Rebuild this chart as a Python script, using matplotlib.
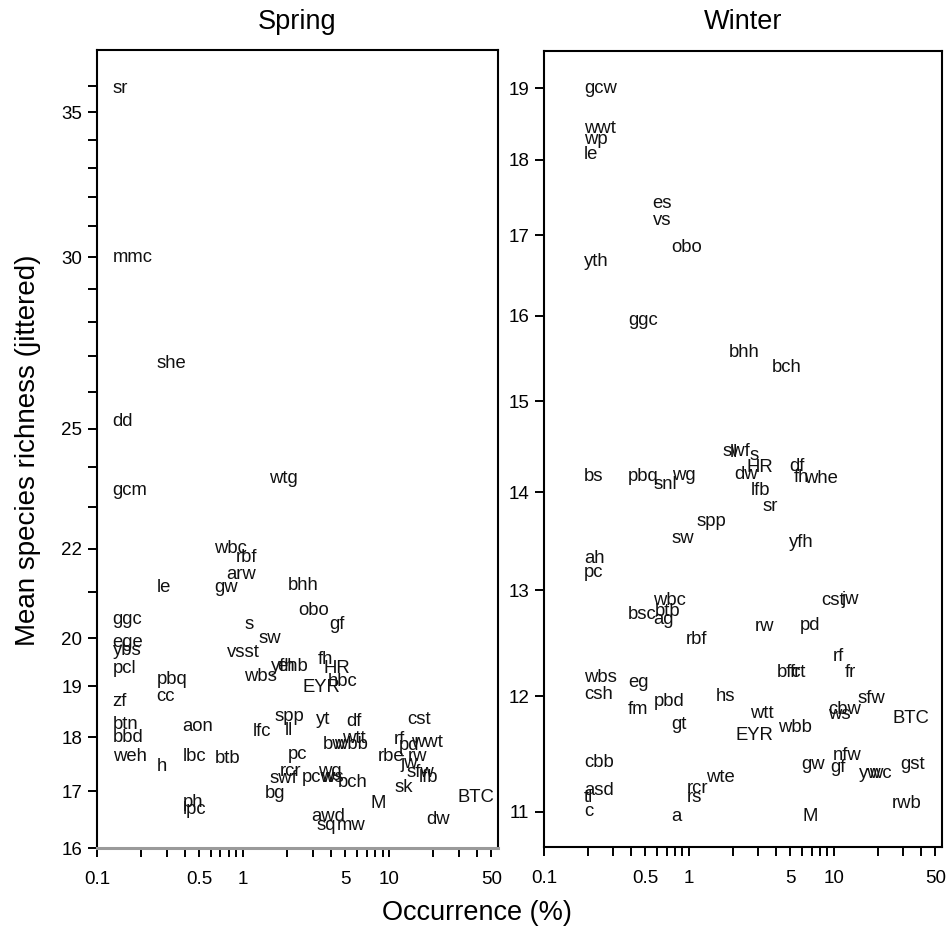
import matplotlib
matplotlib.use("Agg")
import matplotlib.pyplot as plt
from matplotlib.ticker import FixedLocator, FixedFormatter, NullLocator

plt.rcParams['font.family'] = ['Liberation Sans', 'DejaVu Sans']

# ---------------- data ----------------
spring_labels = ["sr", "mmc", "she", "dd", "gcm", "wtg", "wbc", "rbf", "arw", "gw", "le", "bhh",
                 "obo", "gf", "s", "sw", "vsst", "yfh", "ehb", "wbs", "fh", "HR", "hbc", "EYR",
                 "spp", "yt", "df", "lfc", "ll", "cst", "bw", "wbb", "wtt", "rf", "pd", "wwt",
                 "rbe", "jw", "rw", "sfw", "lfb", "sk", "pc", "rcr", "swf", "pcw", "wg", "ws",
                 "bch", "bg", "M", "awd", "sq", "mw", "BTC", "dw", "ggc", "ege", "ybs", "pcl",
                 "pbq", "zf", "cc", "btn", "bbd", "aon", "weh", "h", "lbc", "btb", "ph", "lpc"]
spring_occ = [0.128, 0.128, 0.255, 0.128, 0.128, 1.51, 0.636, 0.886, 0.769, 0.636, 0.255, 2.01,
              2.39, 3.89, 1.02, 1.27, 0.769, 1.54, 1.72, 1.02, 3.22, 3.54, 3.77, 2.54,
              1.64, 3.17, 5.09, 1.16, 1.92, 13.3, 3.49, 4.21, 4.78, 10.8, 11.7, 14.2,
              8.29, 11.9, 13.3, 13.1, 15.8, 10.8, 2.01, 1.77, 1.51, 2.54, 3.27, 3.43,
              4.42, 1.40, 7.43, 2.93, 3.17, 4.35, 29.2, 17.9, 0.128, 0.128, 0.128, 0.128,
              0.255, 0.128, 0.255, 0.128, 0.128, 0.385, 0.128, 0.255, 0.385, 0.636, 0.385, 0.385]
spring_rich = [35.9, 30.0, 26.8, 25.2, 23.4, 23.7, 22.0, 21.8, 21.4, 21.1, 21.1, 21.15,
               20.6, 20.3, 20.3, 20.0, 19.7, 19.4, 19.4, 19.2, 19.55, 19.36, 19.1, 18.97,
               18.4, 18.35, 18.3, 18.12, 18.14, 18.35, 17.87, 17.87, 17.98, 17.95, 17.84, 17.9,
               17.63, 17.5, 17.63, 17.33, 17.25, 17.07, 17.68, 17.36, 17.22, 17.25, 17.35, 17.24,
               17.15, 16.96, 16.78, 16.54, 16.38, 16.38, 16.89, 16.5, 20.4, 19.9, 19.75, 19.36,
               19.15, 18.7, 18.8, 18.24, 18.0, 18.2, 17.63, 17.45, 17.63, 17.6, 16.8, 16.67]

winter_labels = ["gcw", "wwt", "wp", "le", "es", "vs", "obo", "yth", "ggc", "bhh", "bch", "swf",
                 "ll", "s", "HR", "dw", "df", "fh", "whe", "lfb", "sr", "bs", "pbq", "snl",
                 "wg", "spp", "sw", "yfh", "ah", "pc", "wbc", "bsc", "btb", "ag", "rbf", "rw",
                 "pd", "cst", "jw", "rf", "fr", "bfc", "frt", "wbs", "eg", "csh", "hs", "sfw",
                 "fm", "pbd", "wtt", "cbw", "ws", "BTC", "gt", "EYR", "wbb", "cbb", "gw", "nfw",
                 "gf", "yw", "wc", "gst", "wte", "asd", "tl", "c", "rcr", "rs", "a", "M", "rwb"]
winter_occ = [0.188, 0.188, 0.188, 0.188, 0.561, 0.561, 0.758, 0.188, 0.378, 1.87, 3.75, 1.70,
              1.90, 2.60, 2.48, 2.05, 4.91, 5.31, 6.22, 2.65, 3.20, 0.188, 0.378, 0.570,
              0.758, 1.13, 0.758, 4.91, 0.188, 0.188, 0.561, 0.378, 0.579, 0.570, 0.946, 2.86,
              5.84, 8.14, 11.2, 9.84, 11.9, 4.00, 4.91, 0.188, 0.378, 0.188, 1.52, 14.4,
              0.378, 0.570, 2.65, 9.10, 9.10, 25.4, 0.758, 2.09, 4.12, 0.188, 5.93, 9.84,
              9.39, 14.9, 17.4, 28.4, 1.32, 0.188, 0.188, 0.188, 0.961, 0.961, 0.758, 6.03, 25.0]
winter_rich = [19.0, 18.43, 18.28, 18.07, 17.42, 17.19, 16.85, 16.67, 15.94, 15.56, 15.38, 14.44,
               14.43, 14.40, 14.27, 14.19, 14.28, 14.16, 14.15, 14.02, 13.85, 14.17, 14.17, 14.08,
               14.18, 13.70, 13.52, 13.48, 13.32, 13.18, 12.90, 12.77, 12.80, 12.72, 12.53, 12.65,
               12.66, 12.90, 12.91, 12.37, 12.22, 12.22, 12.22, 12.17, 12.13, 12.02, 12.0, 11.98,
               11.88, 11.95, 11.85, 11.88, 11.84, 11.80, 11.75, 11.65, 11.72, 11.42, 11.40, 11.48,
               11.37, 11.32, 11.32, 11.40, 11.29, 11.18, 11.12, 11.0, 11.19, 11.12, 10.96, 10.96, 11.07]

x_ticks = [0.1, 0.2, 0.3, 0.4, 0.5, 0.6, 0.7, 0.8, 0.9, 1, 2, 3, 4, 5, 6, 7, 8, 9, 10, 20, 30, 40, 50]
x_tick_labels = ["0.1", "", "", "", "0.5", "", "", "", "", "1", "", "", "", "5", "", "", "", "", "10", "", "", "", "50"]
spring_y_ticks = list(range(16, 37))
spring_y_shown = [16, 17, 18, 19, 20, 22, 25, 30, 35]
winter_y_ticks = list(range(11, 20))

# ---------------- figure ----------------
W, H = 946, 938
fig = plt.figure(figsize=(W / 100, H / 100), dpi=100)
ax1 = fig.add_axes([97 / W, 1 - 848 / H, (498 - 97) / W, (848 - 50) / H])
ax2 = fig.add_axes([544 / W, 1 - 847 / H, (942 - 544) / W, (847 - 51) / H])


def style(ax, yticks, ylabels):
    ax.set_xscale('log')
    ax.set_yscale('log')
    ax.set_xlim(0.1, 55.5)
    ax.xaxis.set_major_locator(FixedLocator(x_ticks))
    ax.xaxis.set_major_formatter(FixedFormatter(x_tick_labels))
    ax.xaxis.set_minor_locator(NullLocator())
    ax.yaxis.set_major_locator(FixedLocator(yticks))
    ax.yaxis.set_major_formatter(FixedFormatter(ylabels))
    ax.yaxis.set_minor_locator(NullLocator())
    ax.tick_params(axis='both', which='major', direction='out', length=6.5, width=1.4,
                   labelsize=13.5, color='black')
    ax.tick_params(axis='x', pad=10)
    ax.tick_params(axis='y', pad=4)
    for s in ax.spines.values():
        s.set_linewidth(1.5)
        s.set_color('black')


style(ax1, spring_y_ticks, [str(v) if v in spring_y_shown else "" for v in spring_y_ticks])
ax1.set_ylim(16, 37.4)
ax1.spines['bottom'].set_color('#9a9a9a')
ax1.spines['bottom'].set_linewidth(2.2)

style(ax2, winter_y_ticks, [str(v) for v in winter_y_ticks])
ax2.set_ylim(10.71, 19.54)

for lab, xv, yv in zip(spring_labels, spring_occ, spring_rich):
    ax1.text(xv, yv, lab, ha='left', va='center', fontsize=13.3, color='#111111')
for lab, xv, yv in zip(winter_labels, winter_occ, winter_rich):
    ax2.text(xv, yv, lab, ha='left', va='center', fontsize=13.3, color='#111111')

fig.text((97 + 498) / 2 / W, 1 - 22 / H, "Spring", ha='center', va='center', fontsize=19.5)
fig.text((544 + 942) / 2 / W, 1 - 22 / H, "Winter", ha='center', va='center', fontsize=19.5)
fig.text(28 / W, 1 - 450 / H, "Mean species richness (jittered)", rotation=90,
         ha='center', va='center', fontsize=20)
fig.text(477 / W, 1 - 913 / H, "Occurrence (%)", ha='center', va='center', fontsize=19.5)

fig.savefig("out.png", dpi=100)
